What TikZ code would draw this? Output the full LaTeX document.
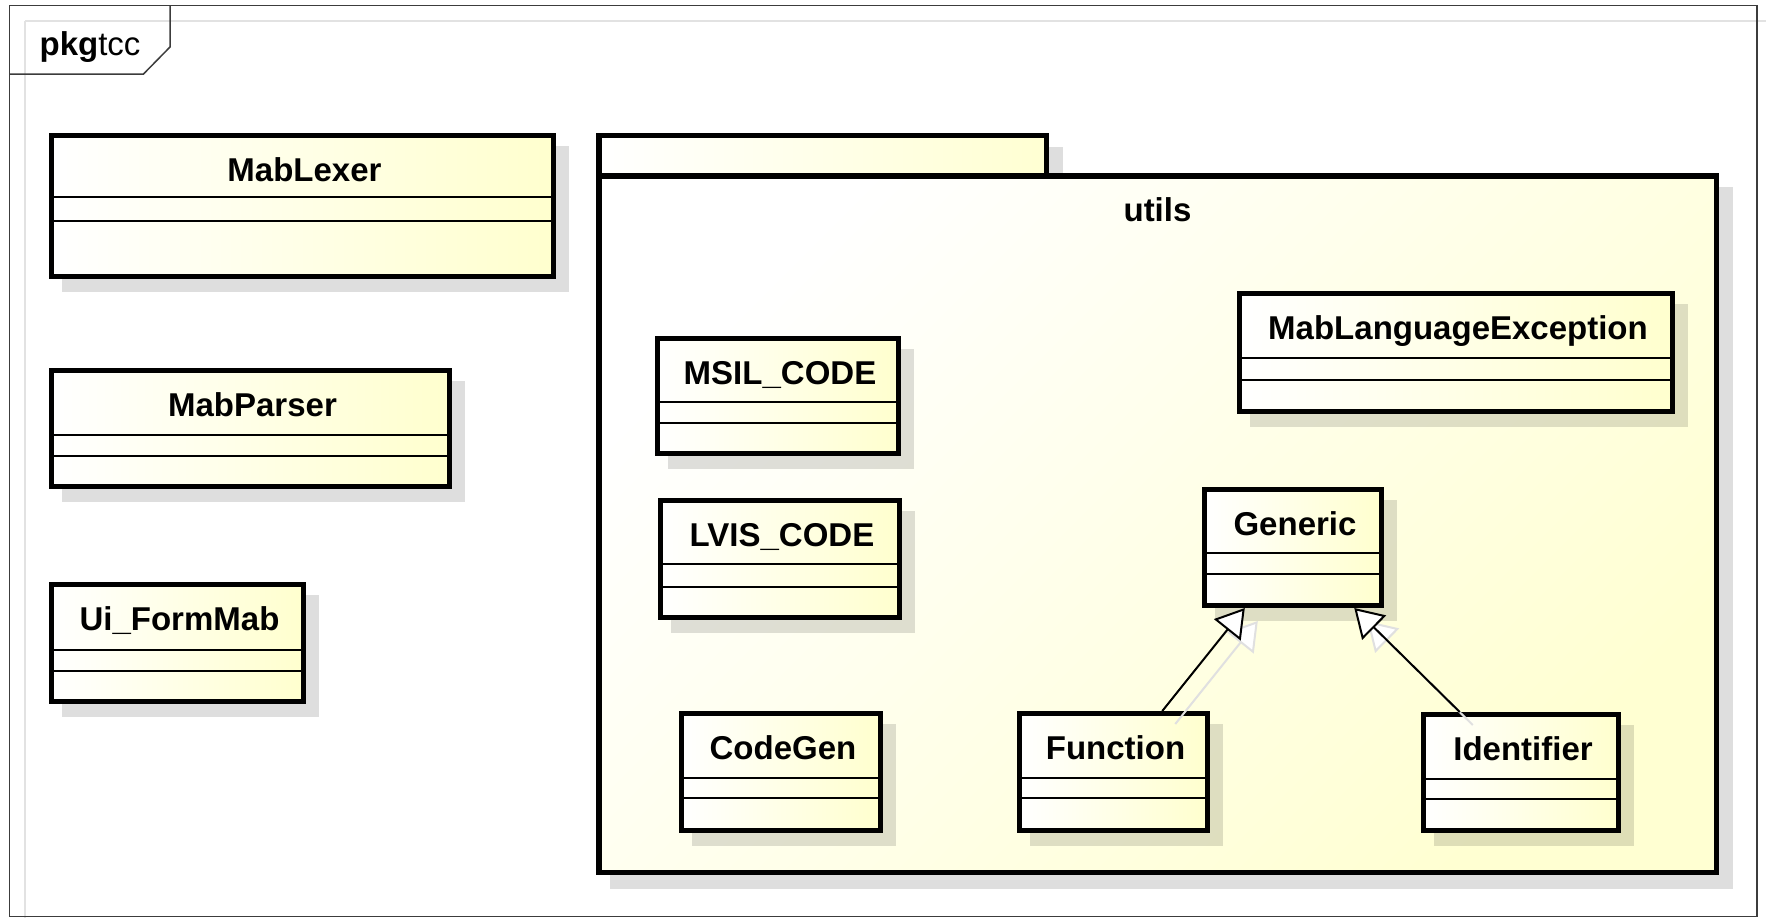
\documentclass[tikz,border=0pt]{standalone}
\usepackage{fontspec}
\setmainfont{Liberation Sans}
\usetikzlibrary{arrows.meta}
\definecolor{clsY}{RGB}{255,255,206}
\definecolor{pkgY}{RGB}{255,255,210}
\definecolor{framegray}{RGB}{60,60,60}
\definecolor{guidegray}{RGB}{226,226,226}

% #1 name, #2 x1, #3 y1, #4 x2, #5 y2 (outer edges), #6 #7 dividers, #8 title
\newcommand\umlclass[8]{%
  \fill[clsshadow] (#2+13,#3+13) rectangle (#4+13,#5+13);
  \node[cls, minimum width={#4-#2-5}, minimum height={#5-#3-5}] (#1) at ({(#2+#4)/2},{(#3+#5)/2}) {};
  \draw[divider] (#2+2.5,#6) -- (#4-2.5,#6) (#2+2.5,#7) -- (#4-2.5,#7);
  \node[clsname] (#1-title) at ({(#2+#4)/2+2},#3+48) {#8};
}

\begin{document}
\begin{tikzpicture}[x=1pt,y=-1pt,
  cls/.style={draw=black, line width=5pt, left color=white, right color=clsY, inner sep=0pt, outer sep=2.5pt},
  clsshadow/.style={fill=black, fill opacity=0.13},
  divider/.style={draw=black, line width=1.5pt},
  clsname/.style={anchor=base, inner sep=0pt, font=\fontsize{33}{40}\selectfont\bfseries},
  pkgbox/.style={draw=black, line width=5.5pt, inner sep=0pt},
  genline/.style={draw=black, line width=2pt, -{Triangle[length=28pt,width=34pt,fill=white]}},
  genshadow/.style={draw=black!12, line width=2pt, -{Triangle[length=28pt,width=34pt,fill=white]}},
  frameline/.style={draw=framegray, line width=1.5pt},
  guide/.style={draw=guidegray, line width=1.5pt}]
\fill[white] (0,0) rectangle (1766,918);
\useasboundingbox (0,0) rectangle (1766,918);

% guide lines and diagram frame
\draw[guide] (25,21) -- (1766,21);
\draw[guide] (25,21) -- (25,918);
\draw[frameline] (9.5,5.5) rectangle (1757,916.5);
\draw[frameline] (9.5,74) -- (143.5,74) -- (170,47) -- (170,5.5);
\node[anchor=base west, inner sep=0pt, font=\fontsize{33}{40}\selectfont] (pkglabel) at (39.4,55) {\textbf{pkg}tcc};

% package utils
\fill[clsshadow] (610,146.7) rectangle (1063.3,173.3);
\fill[clsshadow] (610,187.3) rectangle (1733.3,889);
\node[pkgbox, left color=white, right color=pkgY, minimum width=447.8, minimum height=41.8] (utilsTab) at (822.65,156.35) {};
\node[pkgbox, top color=white, bottom color=pkgY, shading angle=45, minimum width=1117.8, minimum height=696.2] (utils) at (1157.65,524.15) {};
\node[clsname] (utilsLabel) at (1157.5,221.7) {utils};

% classes outside the package
\umlclass{MabLexer}{49}{133}{556}{279}{197}{221}{MabLexer}
\umlclass{MabParser}{49}{368}{452}{489}{435}{456}{MabParser}
\umlclass{UiFormMab}{49}{582}{306}{704}{650}{671}{Ui\_FormMab}

% classes inside the package
\umlclass{MSIL}{655}{336}{901}{456}{402}{423}{MSIL\_CODE}
\umlclass{LVIS}{658}{498}{902}{620}{564}{587}{LVIS\_CODE}
\umlclass{CodeGen}{679}{711}{883}{833}{778}{798}{CodeGen}
\umlclass{Function}{1017}{711}{1210}{833}{778}{798}{Function}
\umlclass{Identifier}{1421}{712}{1621}{833}{779}{799}{Identifier}
\umlclass{Generic}{1202}{487}{1384}{608}{553}{574}{Generic}
\umlclass{MLE}{1237}{291}{1675}{414}{358}{380}{MabLanguageException}

% generalizations
\begin{scope}[transform canvas={shift={(13pt,-13pt)}}]
  \draw[genshadow] (Function) -- (Generic);
  \draw[genshadow] (Identifier) -- (Generic);
\end{scope}
\draw[genline] (Function) -- (Generic);
\draw[genline] (Identifier) -- (Generic);
\end{tikzpicture}
\end{document}
